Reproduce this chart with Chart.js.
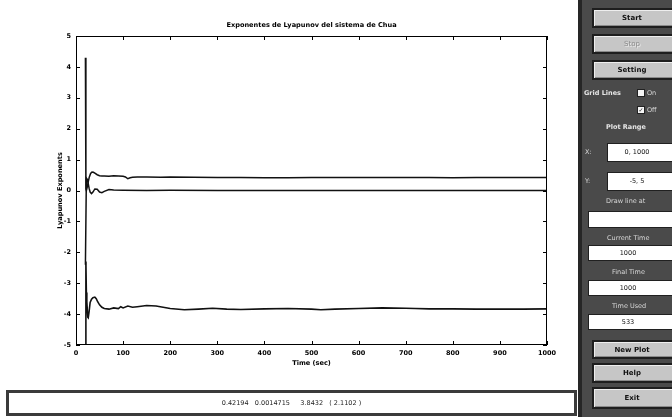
<!DOCTYPE html>
<html>
<head>
<meta charset="utf-8">
<script src="https://cdn.jsdelivr.net/npm/chart.js@4/dist/chart.umd.min.js"></script>
<style>
  html, body { margin: 0; padding: 0; background: #ffffff; width: 672px; height: 417px; overflow: hidden; }
  body { position: relative; font-family: "DejaVu Sans", sans-serif; -webkit-font-smoothing: antialiased; }
  #plot { position: absolute; left: 0; top: 0; width: 575px; height: 385px; }
  #status { position: absolute; left: 6px; top: 390px; width: 565px; height: 20px;
            border: 3px solid #3b3b3b; background: #ffffff; font-size: 6.5px; color: #222;
            text-align: center; line-height: 21px; white-space: pre; will-change: transform; }
  #panel { position: absolute; left: 578px; top: 0; width: 94px; height: 417px;
           background: #4a4a4a; border-left: 4px solid #262626; box-sizing: border-box; will-change: transform; }
  .btn { position: absolute; left: 10px; width: 90px; background: #c6c6c6;
         border: 2px solid #1e1e1e; box-shadow: inset 1px 1px 0 #eeeeee, inset -1px -1px 0 #8a8a8a;
         font-weight: bold; font-size: 7px; color: #111; text-align: center; padding-right: 10px; box-sizing: border-box; }
  .btn.dis { color: #8a8a8a; font-weight: normal; text-shadow: 1px 1px 0 #eaeaea; }
  .lbl { position: absolute; color: #d8d8d8; font-size: 6.5px; white-space: nowrap; }
  .lbl.b { font-weight: bold; color: #e6e6e6; }
  .box { position: absolute; background: #ffffff; border: 1px solid #202020; font-size: 6.5px;
         color: #111; text-align: center; box-sizing: border-box; }
  .chk { position: absolute; width: 6px; height: 6px; background: #f4f4f4; border: 1px solid #222;
         font-size: 6px; line-height: 6px; text-align: center; color: #111; box-sizing: content-box; }
</style>
</head>
<body>
<canvas id="plot" width="575" height="385"></canvas>

<div id="status">0.42194   0.0014715     3.8432   ( 2.1102 )</div>

<div id="panel">
  <div class="btn" style="top:8px;height:20px;line-height:17px;">Start</div>
  <div class="btn dis" style="top:34px;height:20px;line-height:17px;">Stop</div>
  <div class="btn" style="top:60px;height:20px;line-height:17px;">Setting</div>

  <div class="lbl b" style="left:2px;top:89px;">Grid Lines</div>
  <div class="chk" style="left:55px;top:89px;"></div>
  <div class="lbl" style="left:65px;top:89px;">On</div>
  <div class="chk" style="left:55px;top:106px;">✓</div>
  <div class="lbl" style="left:65px;top:106px;">Off</div>

  <div class="lbl b" style="left:24px;top:123px;">Plot Range</div>

  <div class="lbl" style="left:3px;top:148px;">X:</div>
  <div class="box" style="left:25px;top:143px;width:70px;height:19px;line-height:17px;padding-right:10px;">0, 1000</div>
  <div class="lbl" style="left:3px;top:177px;">Y:</div>
  <div class="box" style="left:25px;top:172px;width:70px;height:19px;line-height:17px;padding-right:10px;">-5, 5</div>

  <div class="lbl" style="left:24px;top:197px;">Draw line at</div>
  <div class="box" style="left:6px;top:211px;width:90px;height:17px;"></div>

  <div class="lbl" style="left:25px;top:234px;">Current Time</div>
  <div class="box" style="left:6px;top:245px;width:90px;height:16px;line-height:14px;padding-right:10px;">1000</div>

  <div class="lbl" style="left:30px;top:268px;">Final Time</div>
  <div class="box" style="left:6px;top:280px;width:90px;height:16px;line-height:14px;padding-right:10px;">1000</div>

  <div class="lbl" style="left:30px;top:302px;">Time Used</div>
  <div class="box" style="left:6px;top:314px;width:90px;height:16px;line-height:14px;padding-right:10px;">533</div>

  <div class="btn" style="top:340px;height:19px;line-height:16px;">New Plot</div>
  <div class="btn" style="top:363px;height:20px;line-height:17px;">Help</div>
  <div class="btn" style="top:387px;height:22px;line-height:19px;">Exit</div>
</div>

<script>
// Lyapunov exponents of the Chua system over time (sec)
const time1 = [20, 21, 22, 24, 26, 28, 31, 34, 37, 40, 45, 50, 55, 60, 70, 80, 90, 100, 105, 110, 115, 120, 130, 150, 180, 200, 250, 300, 350, 400, 450, 500, 550, 600, 650, 700, 750, 800, 850, 900, 950, 1000];
const lyap1 = [4.3, 0.05, 0.0, 0.12, 0.28, 0.42, 0.55, 0.6, 0.59, 0.56, 0.51, 0.48, 0.47, 0.47, 0.46, 0.48, 0.47, 0.46, 0.44, 0.38, 0.41, 0.43, 0.44, 0.44, 0.43, 0.44, 0.43, 0.42, 0.42, 0.41, 0.41, 0.42, 0.42, 0.42, 0.42, 0.42, 0.42, 0.41, 0.42, 0.42, 0.42, 0.42];

const time2 = [20, 22, 24, 26, 28, 30, 33, 36, 40, 45, 50, 55, 60, 70, 80, 100, 150, 200, 300, 400, 500, 600, 700, 800, 900, 1000];
const lyap2 = [-2.4, 0.4, 0.36, 0.22, 0.06, -0.05, -0.1, -0.05, 0.05, 0.04, -0.05, -0.07, -0.03, 0.03, 0.02, 0.01, 0.0, 0.01, 0.0, 0.0, 0.0, 0.0, 0.0, 0.0, 0.0, 0.0];

const time3 = [20, 21, 22, 23, 25, 26, 28, 30, 33, 36, 40, 43, 46, 50, 55, 60, 70, 80, 90, 95, 100, 110, 120, 130, 150, 170, 200, 230, 260, 290, 320, 350, 400, 450, 500, 520, 550, 600, 650, 700, 720, 750, 800, 850, 900, 950, 1000];
const lyap3 = [-5, -2.3, -3.3, -3.6, -4.1, -4.12, -3.9, -3.62, -3.52, -3.47, -3.45, -3.5, -3.6, -3.7, -3.78, -3.82, -3.84, -3.8, -3.82, -3.76, -3.8, -3.74, -3.78, -3.76, -3.72, -3.74, -3.82, -3.86, -3.84, -3.81, -3.84, -3.85, -3.83, -3.82, -3.84, -3.86, -3.84, -3.82, -3.8, -3.81, -3.82, -3.83, -3.83, -3.84, -3.84, -3.84, -3.83];

const xTicks = [0, 100, 200, 300, 400, 500, 600, 700, 800, 900, 1000];
const yTicks = [-5, -4, -3, -2, -1, 0, 1, 2, 3, 4, 5];

const pairs = (t, v) => t.map((x, i) => ({ x: x, y: v[i] }));

// Box around the axes with short inward ticks on all four sides
const boxTicks = {
  id: 'boxTicks',
  afterDatasetsDraw(chart) {
    const { ctx, chartArea: a, scales: { x, y } } = chart;
    const len = 4;
    ctx.save();
    ctx.strokeStyle = '#000';
    ctx.lineWidth = 1;
    ctx.strokeRect(a.left + 0.5, a.top + 0.5, a.right - a.left - 1, a.bottom - a.top - 1);
    ctx.beginPath();
    xTicks.forEach(v => {
      const px = Math.round(x.getPixelForValue(v)) + 0.5;
      ctx.moveTo(px, a.bottom); ctx.lineTo(px, a.bottom - len);
      ctx.moveTo(px, a.top); ctx.lineTo(px, a.top + len);
    });
    yTicks.forEach(v => {
      const py = Math.round(y.getPixelForValue(v)) + 0.5;
      ctx.moveTo(a.left, py); ctx.lineTo(a.left + len, py);
      ctx.moveTo(a.right, py); ctx.lineTo(a.right - len, py);
    });
    ctx.stroke();
    ctx.restore();
  }
};

const FAMILY = '"DejaVu Sans", sans-serif';
const lineStyle = { borderColor: '#111', borderWidth: 1.5, pointRadius: 0, tension: 0, fill: false };
const tickFont = { family: FAMILY, size: 6.5, weight: 'bold' };
const titleFont = { family: FAMILY, size: 6.6, weight: 'bold', lineHeight: 1.2 };

new Chart(document.getElementById('plot'), {
  type: 'line',
  data: {
    datasets: [
      Object.assign({ label: 'λ1', data: pairs(time1, lyap1) }, lineStyle),
      Object.assign({ label: 'λ2', data: pairs(time2, lyap2) }, lineStyle),
      Object.assign({ label: 'λ3', data: pairs(time3, lyap3) }, lineStyle, { borderWidth: 1.6 })
    ]
  },
  options: {
    responsive: false,
    animation: false,
    devicePixelRatio: 1,
    layout: { padding: { left: 0, right: 28, top: 0, bottom: 0 } },
    plugins: {
      legend: { display: false },
      tooltip: { enabled: false }
    },
    scales: {
      x: {
        type: 'linear',
        min: 0, max: 1000,
        afterBuildTicks: s => { s.ticks = xTicks.map(v => ({ value: v })); },
        afterFit: s => { s.height = 40; },
        grid: { display: true, drawOnChartArea: false, drawTicks: false },
        border: { display: false },
        ticks: {
          color: '#000', padding: 4, maxRotation: 0, autoSkip: false, font: tickFont,
          callback: v => String(v)
        },
        title: {
          display: true, text: 'Time (sec)', color: '#000', font: titleFont,
          padding: { top: 0, bottom: 18 }
        }
      },
      // top axis carries the plot title, centred over the axes box
      xTop: {
        type: 'linear',
        position: 'top',
        min: 0, max: 1000,
        afterFit: s => { s.height = 36; },
        grid: { display: false },
        border: { display: false },
        ticks: { display: false },
        title: {
          display: true, text: 'Exponentes de Lyapunov del sistema de Chua', color: '#000',
          font: { family: FAMILY, size: 6.6, weight: 'bold', lineHeight: 1.2 },
          padding: { top: 21, bottom: 0 }
        }
      },
      y: {
        type: 'linear',
        min: -5, max: 5,
        afterBuildTicks: s => { s.ticks = yTicks.map(v => ({ value: v })); },
        afterFit: s => { s.width = 76; },
        grid: { display: true, drawOnChartArea: false, drawTicks: false },
        border: { display: false },
        ticks: {
          color: '#000', padding: 5, autoSkip: false, font: tickFont,
          callback: v => String(v)
        },
        title: {
          display: true, text: 'Lyapunov Exponents', color: '#000', font: titleFont,
          padding: { top: 56, bottom: 0 }
        }
      }
    }
  },
  plugins: [boxTicks]
});
</script>
</body>
</html>
